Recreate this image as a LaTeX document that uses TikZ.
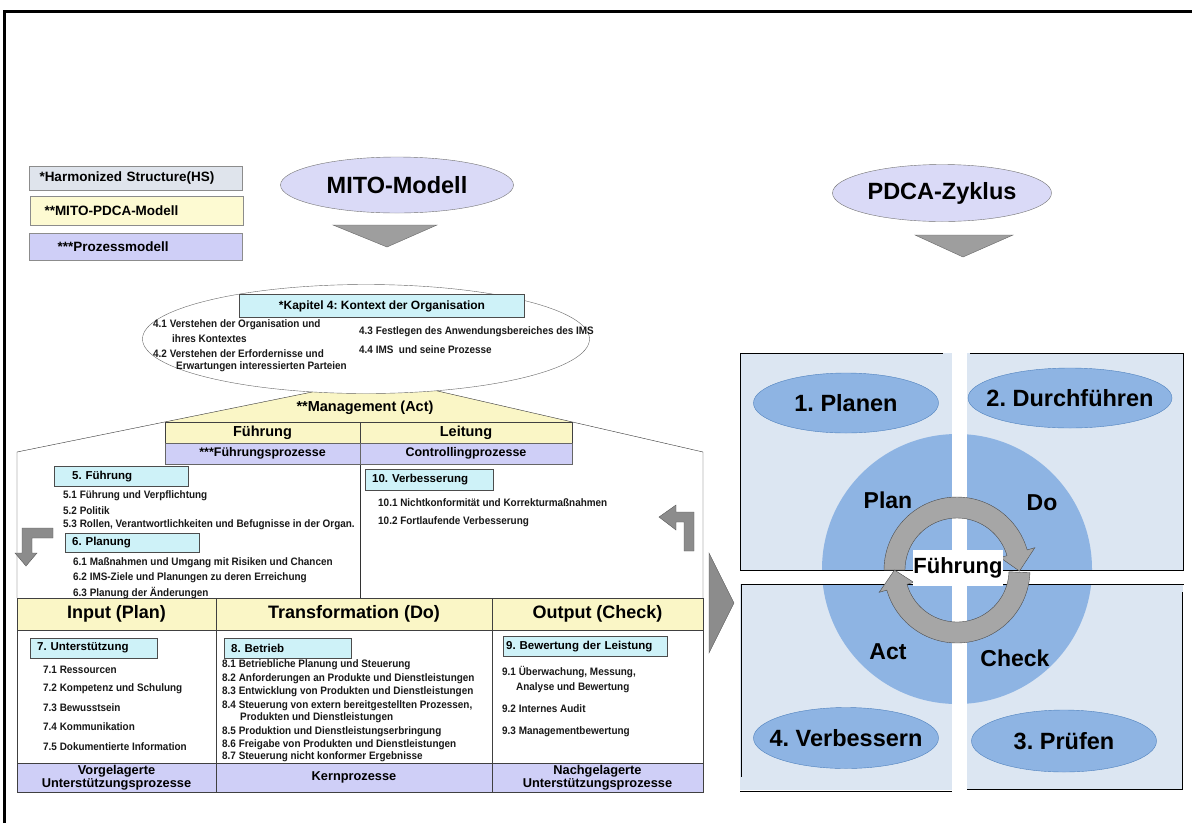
\documentclass[tikz,border=0pt]{standalone}
\usepackage{fontspec}
\setmainfont{Liberation Sans}
\newfontfamily\itemfont{Liberation Sans}[FakeStretch=0.92]
\usepackage{xcolor}
\usetikzlibrary{shapes.geometric}

\definecolor{hsgray}{HTML}{DFE4EC}
\definecolor{legyellow}{HTML}{FDFAD2}
\definecolor{roofyellow}{HTML}{FAF6C6}
\definecolor{prozlila}{HTML}{CFCFF7}
\definecolor{kapcyan}{HTML}{CEF2F8}
\definecolor{ovallila}{HTML}{DADAF7}
\definecolor{panelblue}{HTML}{DCE6F2}
\definecolor{circblue}{HTML}{8EB4E3}
\definecolor{ovalrand}{HTML}{4F81BD}
\definecolor{ringgray}{HTML}{A6A6A6}

\newcommand{\fsz}[1]{\fontsize{#1}{#1}\selectfont\bfseries}

\tikzset{
  legendbox/.style={rectangle, draw=black!45, inner xsep=10pt, inner ysep=0pt, text width=193pt, align=left, font=\fsz{13.5}},
  topoval/.style={ellipse, draw=black!55, fill=ovallila, inner sep=0pt, font=\fsz{23.5}},
  chevron/.style={fill=black!38, draw=black!60},
  blockarrow/.style={fill=black!45, draw=black!65},
  chapbox/.style={rectangle, draw=black!70, fill=kapcyan, anchor=north west, inner xsep=7pt, inner ysep=0pt, minimum height=20pt, text width=#1, align=left, font=\fsz{11.5}},
  item/.style={anchor=west, inner sep=0pt, text=black!90, font=\itemfont\fsz{10.8}},
  mgmtcell/.style={rectangle, draw=black!75, fill=roofyellow, minimum height=21pt, inner sep=0pt, font=\fsz{14.5}},
  proccell/.style={rectangle, draw=black!60, fill=prozlila, minimum height=21pt, inner sep=0pt, font=\fsz{12.5}},
  headcell/.style={rectangle, draw=black!75, fill=roofyellow, minimum height=32pt, inner sep=0pt, font=\fsz{18}},
  bodycell/.style={rectangle, draw=black!75, fill=white, minimum height=133pt, inner sep=0pt},
  footcell/.style={rectangle, draw=black!75, fill=prozlila, minimum height=29pt, inner sep=0pt, align=center, font=\fontsize{12.8}{12.5}\selectfont\bfseries},
  quadoval/.style={ellipse, draw=ovalrand, fill=circblue, inner sep=0pt},
  quadtext/.style={inner sep=0pt, font=\fsz{23.5}},
  pdcatext/.style={inner sep=0pt, font=\fsz{23}},
}

\begin{document}
\frenchspacing
\begin{tikzpicture}[x=1pt,y=-1pt]
\useasboundingbox (0,0) rectangle (1192,823);
\fill[white] (0,0) rectangle (1192,823);
\draw[line width=3pt] (4,823) -- (4,11) -- (1192,11);

% legend
\node[legendbox, fill=hsgray, minimum height=24pt] (legHS) at (136,178.5) {*Harmonized Structure(HS)};
\node[legendbox, fill=legyellow, minimum height=29pt] (legMito) at (137,210.5) {\hspace*{4pt}**MITO-PDCA-Modell};
\node[legendbox, fill=prozlila, minimum height=27pt] (legProz) at (136,246.5) {\hspace*{18pt}***Prozessmodell};

% Ovale oben
\node[topoval, minimum width=233pt, minimum height=56pt] (mito) at (397,185) {MITO-Modell};
\filldraw[chevron] (333,225) -- (437,225) -- (387,247) -- cycle;
\node[topoval, minimum width=219pt, minimum height=57pt] (pdca) at (942,193) {PDCA-Zyklus};
\filldraw[chevron] (915,235) -- (1013,235) -- (963,257) -- cycle;

% Haus
\fill[roofyellow] (165,422) -- (381,378) -- (572,422) -- cycle;
\draw[black!80] (17,598) -- (17,452) -- (381,378) -- (703,452) -- (703,598);
\draw[black!80] (360,464) -- (360,598);
\node[font=\fsz{14.5}] (mgmt) at (365,408) {**Management (Act)};

% Kapitel 4
\node[ellipse, draw=black!60, fill=white, minimum width=447pt, minimum height=109pt] (kontext) at (366,339) {};
\node[rectangle, draw=black!70, fill=kapcyan, minimum width=285pt, minimum height=23pt, inner sep=0pt, font=\fsz{12}] (kap4) at (382,306) {*Kapitel 4: Kontext der Organisation};
\node[item] (i41) at (153,325) {4.1 Verstehen der Organisation und};
\node[item] (i41b) at (172,339) {ihres Kontextes};
\node[item] (i42) at (153,354) {4.2 Verstehen der Erfordernisse und};
\node[item] (i42b) at (176,367) {Erwartungen interessierten Parteien};
\node[item] (i43) at (359,332) {4.3 Festlegen des Anwendungsbereiches des IMS};
\node[item] (i44) at (359,350) {4.4 IMS\ \ und seine Prozesse};

% Management
\node[mgmtcell, minimum width=195pt] (fuehr) at (262.5,432.5) {Führung};
\node[mgmtcell, minimum width=212pt] (leit) at (466,432.5) {Leitung};
\node[proccell, minimum width=195pt] (fprozess) at (262.5,453.5) {***Führungsprozesse};
\node[proccell, minimum width=212pt] (cprozess) at (466,453.5) {Controllingprozesse};

\node[chapbox=120pt] (k5) at (54,466) {\hspace*{11pt}5. Führung};
\node[item] (i51) at (63,496) {5.1 Führung und Verpflichtung};
\node[item] (i52) at (63,511) {5.2 Politik};
\node[item] (i53) at (63,525) {5.3 Rollen, Verantwortlichkeiten und Befugnisse in der Organ.};
\node[chapbox=120pt, minimum height=19pt] (k6) at (65,533) {6. Planung};
\node[item] (i61) at (73,563) {6.1 Maßnahmen und Umgang mit Risiken und Chancen};
\node[item] (i62) at (73,578) {6.2 IMS-Ziele und Planungen zu deren Erreichung};
\node[item] (i63) at (73,593) {6.3 Planung der Änderungen};

\node[chapbox=114pt, minimum height=21pt] (k10) at (365,469) {10. Verbesserung};
\node[item] (i101) at (378,503) {10.1 Nichtkonformität und Korrekturmaßnahmen};
\node[item] (i102) at (378,522) {10.2 Fortlaufende Verbesserung};

% Pfeile
\filldraw[blockarrow] (53,528) -- (22,528) -- (22,553) -- (15,553) -- (26,566) -- (37,553) -- (32,553) -- (32,538) -- (53,538) -- cycle;
\filldraw[blockarrow] (694,551) -- (694,512) -- (676,512) -- (676,505) -- (659,517) -- (676,530) -- (676,522) -- (684,522) -- (684,551) -- cycle;
\filldraw[blockarrow] (709,553) -- (734,603) -- (709,653) -- cycle;

% Prozesstabelle
\node[headcell, minimum width=199pt] (hIn) at (116.5,614) {Input (Plan)};
\node[headcell, minimum width=276pt] (hTr) at (354,614) {Transformation (Do)};
\node[headcell, minimum width=211pt] (hOut) at (597.5,614) {Output (Check)};
\node[bodycell, minimum width=199pt] (bIn) at (116.5,696.5) {};
\node[bodycell, minimum width=276pt] (bTr) at (354,696.5) {};
\node[bodycell, minimum width=211pt] (bOut) at (597.5,696.5) {};
\node[footcell, minimum width=199pt] (fIn) at (116.5,777.5) {Vorgelagerte\\Unterstützungsprozesse};
\node[footcell, minimum width=276pt] (fTr) at (354,777.5) {Kernprozesse};
\node[footcell, minimum width=211pt] (fOut) at (597.5,777.5) {Nachgelagerte\\Unterstützungsprozesse};

\node[chapbox=113pt] (k7) at (30,638) {7. Unterstützung};
\node[item] (i71) at (43,670) {7.1 Ressourcen};
\node[item] (i72) at (43,689) {7.2 Kompetenz und Schulung};
\node[item] (i73) at (43,708) {7.3 Bewusstsein};
\node[item] (i74) at (43,727) {7.4 Kommunikation};
\node[item] (i75) at (43,747) {7.5 Dokumentierte Information};

\node[chapbox=113pt] (k8) at (224,638) {8. Betrieb};
\node[item] (i81) at (222,665) {8.1 Betriebliche Planung und Steuerung};
\node[item] (i82) at (222,679) {8.2 Anforderungen an Produkte und Dienstleistungen};
\node[item] (i83) at (222,692) {8.3 Entwicklung von Produkten und Dienstleistungen};
\node[item] (i84) at (222,706) {8.4 Steuerung von extern bereitgestellten Prozessen,};
\node[item] (i84b) at (240,718) {Produkten und Dienstleistungen};
\node[item] (i85) at (222,732) {8.5 Produktion und Dienstleistungserbringung};
\node[item] (i86) at (222,745) {8.6 Freigabe von Produkten und Dienstleistungen};
\node[item] (i87) at (222,757) {8.7 Steuerung nicht konformer Ergebnisse};

\node[chapbox=158pt, inner xsep=3pt] (k9) at (503,636) {9. Bewertung der Leistung};
\node[item] (i91) at (502,672) {9.1 Überwachung, Messung,};
\node[item] (i91b) at (516,688) {Analyse und Bewertung};
\node[item] (i92) at (502,709) {9.2 Internes Audit};
\node[item] (i93) at (502,732) {9.3 Managementbewertung};

% PDCA-Zyklus
\fill[panelblue] (740,353) rectangle (952,570);
\fill[panelblue] (967,353) rectangle (1183,570);
\fill[panelblue] (740,584) rectangle (952,790);
\fill[panelblue] (967,584) rectangle (1183,790);
\fill[circblue] (957,569) circle (135pt);
\fill[white] (952,353) rectangle (967,792);
\fill[white] (740,570) rectangle (1184,584);
\draw (740,570) -- (740,353) -- (943,353);
\draw (970,353) -- (1183,353) -- (1183,570);
\draw (740,570) -- (1184,570);
\draw (742,584) -- (1184,584);
\draw (741,584) -- (741,777);
\draw (740,791) -- (952,791);
\draw (967,789) -- (1182,789) -- (1182,592);

\node[quadoval, minimum width=185pt, minimum height=60pt] (ovPlan) at (846,403) {};
\node[quadtext] (txPlan) at (ovPlan) {1. Planen};
\node[quadoval, minimum width=204pt, minimum height=60pt] (ovDo) at (1070,398) {};
\node[quadtext] (txDo) at (ovDo) {2. Durchführen};
\node[quadoval, minimum width=185pt, minimum height=61pt] (ovAct) at (846,738) {};
\node[quadtext] (txAct) at (ovAct) {4. Verbessern};
\node[quadoval, minimum width=185pt, minimum height=62pt] (ovCheck) at (1064,741) {};
\node[quadtext] (txCheck) at (ovCheck) {3. Prüfen};

\node[pdcatext] (plan) at (888,500) {Plan};
\node[pdcatext] (do) at (1042,503) {Do};
\node[pdcatext] (act) at (888,652) {Act};
\node[pdcatext] (check) at (1015,658) {Check};

\begin{scope}[shift={(957,570)}]
\filldraw[fill=ringgray, draw=black!70] plot[domain=180:344, samples=50] (\x:73) -- (344:81) -- (1:62.5) -- (344:45) -- plot[domain=344:180, samples=50] (\x:52) -- cycle;
\filldraw[fill=ringgray, draw=black!70] plot[domain=2:164, samples=50] (\x:73) -- (164:81) -- (180:62.5) -- (164:45) -- plot[domain=164:2, samples=50] (\x:52) -- cycle;
\end{scope}
\node[fill=white, minimum width=90pt, minimum height=36pt, inner sep=0pt, font=\fsz{22}] (mitte) at (958,568) {Führung};
\end{tikzpicture}
\end{document}
